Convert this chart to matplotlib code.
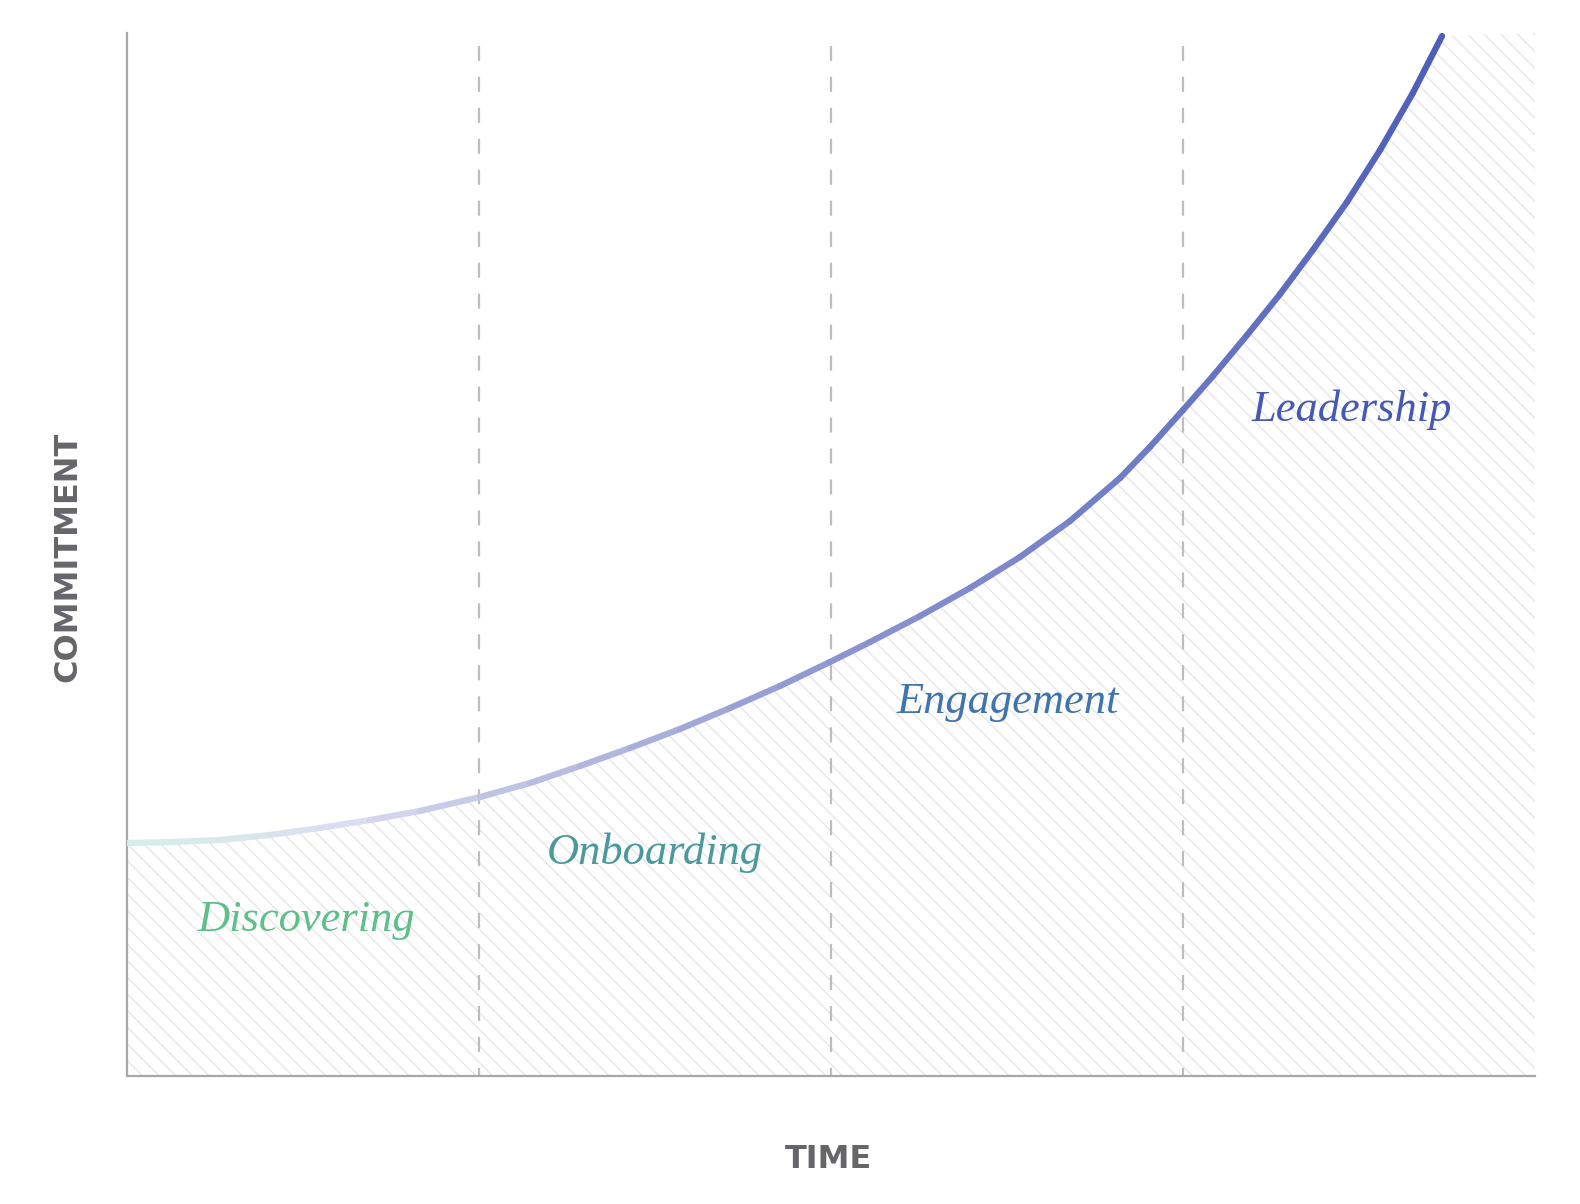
import matplotlib
matplotlib.use("Agg")
import matplotlib.pyplot as plt
from matplotlib.collections import LineCollection
from matplotlib.colors import LinearSegmentedColormap
import numpy as np

# ---- data ----
curve_x = [0.000, 0.136, 0.264, 0.406, 0.548, 0.690, 0.832, 1.003, 1.145, 1.287,
           1.429, 1.571, 1.713, 1.855, 1.997, 2.111, 2.253, 2.395, 2.537, 2.679,
           2.821, 2.906, 3.000, 3.085, 3.182, 3.276, 3.369, 3.466, 3.560, 3.653, 3.736]
curve_y = [22.34, 22.44, 22.63, 23.11, 23.78, 24.54, 25.41, 26.75, 28.09, 29.72,
           31.45, 33.27, 35.28, 37.39, 39.69, 41.61, 44.10, 46.79, 49.76, 53.21,
           57.33, 60.31, 63.85, 67.11, 71.04, 74.98, 79.19, 83.80, 88.78, 94.25, 99.71]

stage_labels = ["Discovering", "Onboarding", "Engagement", "Leadership"]
stage_label_x = [0.509, 1.5, 2.503, 3.48]
stage_label_y = [15.0, 21.4, 35.9, 63.9]
stage_colors = ["#5fbf8a", "#4a9a9c", "#3f74ad", "#4658b5"]
dividers = [1.0, 2.0, 3.0]

grad_pos = [0.0, 0.6, 1.0, 2.0, 3.0, 3.74]
grad_colors = ["#d6efe8", "#dcdff0", "#c4c7e6", "#8e96d0", "#6b78c4", "#4b5db7"]

x_label = "TIME"
y_label = "COMMITMENT"

plt.rcParams["lines.scale_dashes"] = False
plt.rcParams["hatch.color"] = "#e4e4e4"
plt.rcParams["hatch.linewidth"] = 0.9

fig = plt.figure(figsize=(15.8, 12.04), dpi=100)
ax = fig.add_axes([127 / 1580, 1 - 1076 / 1204, (1535 - 127) / 1580, (1076 - 33) / 1204])
ax.set_xlim(0, 4)
ax.set_ylim(0, 100)

# hatched area under curve
fx = curve_x + [4.0]
fy = curve_y + [100.0]
ax.fill_between(fx, fy, 0, facecolor="none", edgecolor="#e4e4e4", hatch="\\\\",
                linewidth=0, zorder=1)

# dashed dividers
ax.vlines(dividers, 0, 98.8, colors="#bdbdbd", linewidth=1.6,
          linestyles=[(5, (10.8, 11.5))], zorder=2)

# gradient curve
cmap = LinearSegmentedColormap.from_list(
    "g", [(p / grad_pos[-1], c) for p, c in zip(grad_pos, grad_colors)])
pts = np.column_stack([curve_x, curve_y])
segs = np.stack([pts[:-1], pts[1:]], axis=1)
mids = (pts[:-1, 0] + pts[1:, 0]) / 2 / grad_pos[-1]
lc = LineCollection(segs, colors=cmap(np.clip(mids, 0, 1)), linewidths=4.5,
                    capstyle="round", joinstyle="round", zorder=3)
ax.add_collection(lc)

# labels
for lab, lx, ly, col in zip(stage_labels, stage_label_x, stage_label_y, stage_colors):
    ax.text(lx, ly, lab, color=col, fontsize=32, family="Liberation Serif",
            style="italic", ha="center", va="center", zorder=4)

# spines
for s in ["top", "right"]:
    ax.spines[s].set_visible(False)
for s in ["left", "bottom"]:
    ax.spines[s].set_color("#a8a8a8")
    ax.spines[s].set_linewidth(1.6)
ax.set_xticks([])
ax.set_yticks([])

ax.text(0.498, -0.0796, x_label, transform=ax.transAxes, ha="center", va="center",
        fontsize=23, fontweight="bold", color="#66666a", family="DejaVu Sans")
ax.text(-0.0419, 0.4976, y_label, transform=ax.transAxes, ha="center", va="center",
        rotation=90, fontsize=23, fontweight="bold", color="#66666a", family="DejaVu Sans")

fig.savefig("out.png", dpi=100, facecolor="white")
